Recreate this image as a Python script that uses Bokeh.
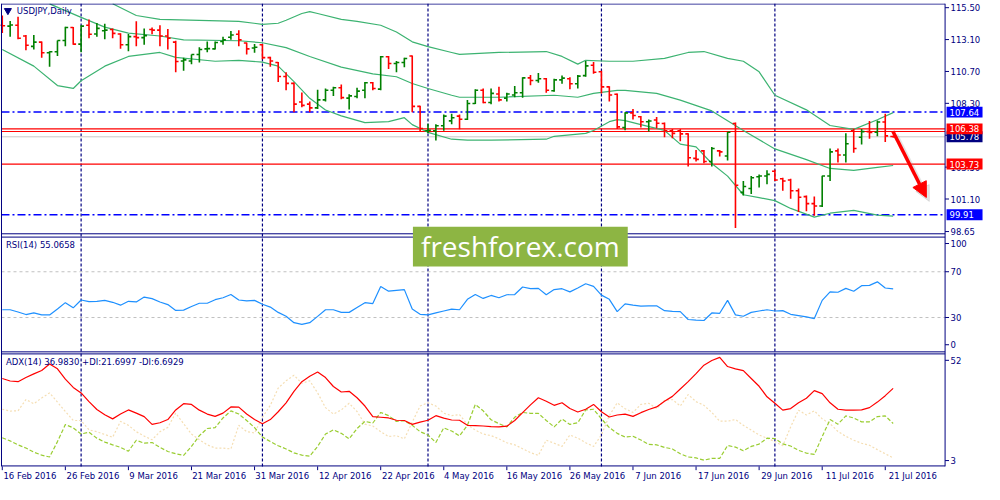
from bokeh.plotting import figure
from bokeh.models import (Range1d, FixedTicker, Label, ColumnDataSource, Arrow, NormalHead)
from bokeh.core.properties import value
from bokeh.embed import file_html
from bokeh.resources import INLINE

# ---- USDJPY daily bars, 16 Feb .. 22 Jul 2016 ----
opens = [114.18, 114.11, 114.18, 113.37, 112.59, 112.91, 112.11, 112.18, 113.03, 114.01,
         112.76, 114.18, 113.52, 113.76, 113.86, 113.52, 112.71, 113.32, 113.25, 113.86,
         113.81, 113.37, 112.91, 111.49, 111.49, 111.98, 112.40, 112.40, 112.96, 113.28,
         113.50, 112.84, 112.47, 112.71, 111.74, 111.37, 110.32, 109.80, 108.40, 108.24,
         107.96, 108.56, 109.29, 109.47, 108.69, 108.81, 109.29, 109.85, 109.37, 111.81,
         111.30, 111.37, 111.86, 108.07, 106.24, 106.24, 106.61, 106.98, 107.34, 107.10,
         108.29, 109.29, 108.36, 109.00, 108.69, 108.93, 109.10, 110.22, 110.02, 110.15,
         109.25, 110.07, 110.15, 109.78, 110.39, 111.17, 110.68, 109.54, 108.98, 106.48,
         107.58, 107.29, 106.92, 107.05, 106.78, 106.24, 106.24, 106.00, 104.16, 104.72,
         103.92, 104.72, 104.34, 106.78, 101.60, 101.89, 102.77, 102.83, 103.19, 102.62,
         102.53, 101.72, 101.28, 100.75, 100.57, 102.83, 104.72, 104.41, 106.24, 105.75,
         106.17, 106.12, 106.90, 105.80]
highs = [114.91, 114.50, 114.81, 113.44, 113.44, 112.96, 112.22, 113.03, 114.06, 114.05,
         114.18, 114.62, 114.35, 114.30, 113.94, 113.57, 113.52, 114.47, 113.94, 114.01,
         114.18, 113.89, 113.01, 111.74, 111.98, 112.52, 112.96, 112.96, 113.32, 113.74,
         113.81, 112.88, 112.76, 112.76, 111.81, 111.42, 110.64, 109.87, 109.12, 108.44,
         109.32, 109.42, 109.54, 109.71, 108.98, 109.47, 109.91, 109.91, 111.86, 111.86,
         111.49, 111.74, 111.91, 108.12, 106.77, 106.72, 107.46, 107.51, 107.46, 108.55,
         109.37, 109.42, 109.42, 109.54, 109.10, 109.61, 110.27, 110.44, 110.59, 110.20,
         110.15, 110.39, 110.27, 110.44, 111.49, 111.42, 110.76, 109.58, 109.05, 107.63,
         107.88, 107.34, 107.09, 107.27, 106.85, 106.36, 106.36, 106.04, 104.78, 104.78,
         105.02, 104.78, 106.15, 106.85, 102.46, 102.83, 102.95, 103.26, 103.31, 102.70,
         102.62, 101.89, 101.36, 101.28, 102.85, 104.90, 104.90, 106.04, 106.36, 106.36,
         106.97, 107.01, 107.51, 105.86]
lows = [113.59, 113.32, 113.13, 112.30, 112.35, 111.74, 111.05, 111.86, 112.59, 112.71,
        112.15, 113.20, 113.32, 113.13, 113.20, 112.40, 112.22, 112.59, 112.71, 113.50,
        112.59, 112.35, 110.64, 110.76, 111.25, 111.37, 112.15, 112.35, 112.71, 113.08,
        112.59, 111.98, 112.11, 111.62, 111.05, 109.91, 109.29, 107.63, 108.01, 107.63,
        107.88, 108.44, 108.85, 108.61, 107.83, 108.69, 108.69, 109.29, 109.29, 110.88,
        110.64, 111.01, 107.63, 106.17, 106.04, 105.51, 106.24, 106.72, 106.35, 107.05,
        108.25, 108.31, 108.24, 108.44, 108.44, 108.76, 108.73, 109.66, 109.85, 109.10,
        109.17, 109.78, 109.36, 109.42, 110.30, 110.52, 109.05, 108.44, 106.36, 106.28,
        107.09, 106.48, 106.19, 106.41, 105.75, 105.68, 105.44, 103.55, 103.92, 103.80,
        103.55, 104.29, 103.99, 98.91, 101.36, 101.48, 101.96, 102.21, 102.46, 101.72,
        101.11, 100.13, 100.18, 99.84, 100.49, 102.46, 103.85, 103.85, 104.58, 105.21,
        105.63, 105.82, 105.39, 105.72]
closes = [114.14, 114.20, 113.20, 112.67, 112.91, 112.11, 112.18, 113.03, 114.01, 112.76,
          114.11, 113.50, 113.94, 113.81, 113.57, 112.71, 113.32, 113.25, 113.40, 113.81,
          113.37, 113.20, 111.45, 111.57, 111.98, 112.35, 112.42, 112.88, 113.08, 113.44,
          113.08, 112.40, 112.52, 111.74, 111.49, 110.32, 109.80, 108.24, 108.15, 107.96,
          108.56, 109.29, 109.47, 108.73, 108.86, 109.22, 109.85, 109.42, 111.81, 111.30,
          111.37, 111.67, 108.07, 106.41, 106.28, 106.61, 107.34, 107.22, 107.10, 108.29,
          109.29, 108.36, 109.05, 108.56, 109.00, 109.10, 110.22, 110.02, 110.15, 109.29,
          110.07, 110.20, 109.78, 110.35, 111.12, 110.64, 109.54, 108.93, 106.53, 107.58,
          107.39, 106.92, 106.97, 106.80, 106.24, 106.04, 106.00, 104.21, 104.08, 103.92,
          104.90, 104.65, 106.12, 102.14, 102.04, 102.70, 102.83, 102.95, 102.53, 102.46,
          101.72, 101.23, 100.75, 100.57, 102.83, 104.65, 104.41, 105.26, 104.90, 106.17,
          106.10, 106.90, 105.85, 105.78]

# Bollinger bands at sample bars
upper_idx = [14, 17, 20, 25, 30, 33, 35, 36, 38, 39, 40, 43, 45, 48, 50, 52, 54, 57, 58,
             63, 69, 71, 73, 74, 77, 80, 84, 87, 89, 92, 94, 96, 98, 102, 105, 108, 111, 113]
upper_val = [115.79, 114.91, 114.62, 114.55, 114.47, 114.25, 114.33, 114.55, 115.06, 115.20,
             115.06, 114.62, 114.47, 114.18, 113.67, 112.93, 112.57, 112.13, 111.98, 112.13,
             112.20, 111.83, 111.25, 111.54, 111.47, 111.47, 111.69, 112.13, 112.20, 111.69,
             111.47, 110.67, 108.91, 107.81, 106.63, 106.34, 107.07, 107.60]
middle_idx = [6, 10, 13, 16, 20, 23, 30, 33, 36, 39, 43, 47, 50, 52, 54, 57, 58, 63, 70,
              73, 75, 78, 79, 83, 86, 90, 94, 98, 102, 105, 108, 111, 113]
middle_val = [115.79, 114.77, 114.04, 113.59, 113.37, 113.08, 113.01, 112.86, 112.49, 111.83,
              111.03, 110.52, 110.30, 109.79, 109.42, 108.91, 108.76, 108.76, 108.91, 108.76,
              109.05, 109.27, 109.27, 109.05, 108.54, 107.73, 106.26, 104.87, 104.06, 103.40,
              103.26, 103.48, 103.62]
lower_idx = [0, 4, 7, 9, 10, 13, 16, 20, 22, 27, 30, 33, 35, 37, 39, 41, 43, 46, 49, 51,
             52, 54, 57, 59, 62, 69, 70, 74, 75, 77, 78, 79, 81, 84, 86, 88, 90, 92, 94, 96,
             98, 100, 103, 105, 108, 111, 113]
lower_val = [112.35, 111.10, 109.64, 109.42, 110.00, 111.10, 111.83, 112.13, 111.76, 111.47,
             111.54, 111.40, 111.10, 109.93, 108.68, 107.80, 107.36, 106.85, 106.92, 107.22,
             106.70, 106.12, 105.60, 105.53, 105.53, 105.60, 105.82, 106.04, 106.26, 106.92,
             107.07, 107.00, 106.70, 106.26, 105.23, 105.02, 103.77, 102.82, 101.42, 101.20,
             100.98, 100.39, 99.74, 100.03, 100.25, 99.88, 99.81]

rsi = [36.8, 36.8, 34.8, 32.6, 34.0, 32.3, 32.3, 37.4, 43.0, 38.5,
       45.3, 43.9, 44.2, 45.0, 43.3, 40.8, 44.2, 43.6, 47.9, 46.5,
       43.6, 41.3, 36.2, 36.5, 39.6, 42.5, 42.5, 45.6, 47.3, 50.1,
       45.3, 44.5, 45.0, 41.6, 39.1, 34.5, 31.1, 25.5, 24.0, 25.5,
       31.0, 36.8, 36.8, 34.5, 34.5, 38.8, 43.0, 42.2, 57.2, 53.0,
       53.8, 54.4, 37.4, 32.8, 32.3, 34.0, 35.7, 37.4, 36.8, 45.9,
       50.1, 46.7, 49.3, 47.3, 49.9, 50.1, 56.7, 55.2, 55.5, 49.9,
       54.4, 55.2, 52.4, 55.8, 59.5, 57.2, 49.6, 45.9, 35.1, 41.9,
       40.8, 39.9, 40.2, 40.2, 36.0, 35.4, 35.1, 28.3, 27.7, 27.4,
       34.0, 33.7, 45.0, 32.3, 31.1, 34.5, 35.7, 36.8, 35.7, 36.0,
       32.8, 31.7, 30.6, 29.1, 45.0, 52.4, 52.1, 55.5, 53.0, 57.8,
       58.1, 61.2, 55.8, 55.07]

adx = [41.3, 40.2, 39.9, 41.7, 43.3, 44.8, 47.6, 45.5, 41.0, 37.4,
       35.0, 31.2, 27.8, 25.5, 23.7, 25.8, 27.6, 26.2, 24.7, 21.3,
       22.0, 23.4, 27.6, 30.3, 30.0, 27.5, 25.8, 24.8, 26.2, 28.9,
       28.8, 25.8, 23.4, 21.6, 23.4, 26.8, 30.7, 35.7, 39.9, 42.3,
       44.1, 41.7, 37.8, 35.4, 35.7, 32.9, 29.3, 24.7, 24.4, 24.1,
       23.1, 23.0, 21.3, 22.3, 23.1, 25.1, 24.0, 23.2, 23.1, 20.9,
       20.8, 20.6, 20.3, 20.2, 20.5, 23.0, 26.4, 29.8, 32.9, 31.4,
       29.6, 30.7, 28.2, 26.7, 27.9, 30.0, 26.8, 24.5, 25.4, 25.8,
       24.8, 26.4, 27.8, 28.9, 31.4, 33.5, 36.7, 39.9, 43.4, 47.1,
       49.1, 50.5, 46.5, 45.5, 44.7, 41.3, 37.9, 33.3, 30.5, 27.5,
       28.2, 30.7, 32.7, 36.0, 34.7, 30.7, 27.9, 27.5, 27.5, 27.6,
       28.6, 31.0, 33.8, 36.98]
plus_di = [15.5, 14.1, 12.4, 11.0, 9.2, 7.9, 7.1, 13.8, 21.2, 19.8,
           17.1, 17.9, 15.3, 13.6, 12.4, 11.3, 9.6, 14.4, 13.1, 13.4,
           11.3, 9.5, 8.5, 7.8, 11.7, 16.4, 19.5, 19.9, 24.1, 27.2,
           25.8, 23.0, 19.9, 15.8, 13.8, 12.0, 10.6, 8.9, 7.9, 7.5,
           11.7, 17.1, 18.9, 17.4, 15.0, 19.5, 22.6, 21.9, 26.5, 25.1,
           22.6, 22.9, 20.9, 18.1, 16.7, 13.4, 19.8, 18.4, 16.3, 20.9,
           30.0, 27.2, 23.3, 21.6, 20.2, 24.4, 26.5, 26.1, 26.1, 23.0,
           20.2, 23.6, 21.3, 22.0, 27.6, 27.9, 23.7, 19.9, 17.4, 15.8,
           16.1, 14.5, 12.6, 12.4, 11.3, 10.6, 8.5, 7.1, 6.7, 5.7,
           6.5, 6.5, 12.1, 11.4, 9.8, 11.7, 12.7, 15.3, 15.1, 12.8,
           11.9, 10.0, 8.8, 8.2, 16.0, 23.4, 21.4, 25.0, 24.1, 22.4,
           22.4, 24.7, 25.0, 21.70]
minus_di = [27.9, 27.1, 27.2, 32.1, 30.3, 32.8, 35.0, 31.0, 26.9, 23.0,
            23.0, 18.9, 18.1, 16.9, 15.7, 22.6, 20.9, 18.1, 16.2, 14.6,
            18.1, 20.0, 26.2, 21.6, 17.1, 14.6, 12.4, 11.0, 11.0, 10.6,
            20.9, 18.1, 17.6, 24.4, 29.6, 37.1, 40.3, 42.7, 39.2, 40.3,
            35.0, 28.6, 25.8, 27.6, 30.5, 26.9, 21.4, 20.6, 18.1, 16.0,
            16.4, 15.0, 22.3, 29.3, 30.7, 29.3, 26.2, 25.1, 25.6, 21.2,
            18.8, 17.1, 16.4, 15.0, 13.3, 12.4, 10.7, 9.0, 7.8, 14.4,
            13.1, 11.7, 16.7, 15.3, 13.3, 11.7, 16.7, 25.1, 30.7, 28.1,
            26.5, 30.0, 30.5, 28.2, 31.7, 32.1, 29.3, 34.3, 31.2, 29.6,
            26.5, 22.7, 22.7, 23.4, 20.9, 18.8, 16.7, 15.3, 13.8, 12.0,
            20.2, 27.5, 25.4, 27.2, 23.7, 21.6, 18.2, 16.1, 14.4, 13.1,
            12.2, 10.3, 8.5, 6.69]

date_bars = [0, 8, 16, 24, 32, 40, 48, 56, 64, 72, 80, 88, 96, 104, 112]
date_labels = ["16 Feb 2016", "26 Feb 2016", "9 Mar 2016", "21 Mar 2016", "31 Mar 2016",
               "12 Apr 2016", "22 Apr 2016", "4 May 2016", "16 May 2016", "26 May 2016",
               "7 Jun 2016", "17 Jun 2016", "29 Jun 2016", "11 Jul 2016", "21 Jul 2016"]
month_bars = [10, 33, 54, 76, 98]
price_ticks = [115.50, 113.10, 110.70, 108.30, 105.90, 103.50, 101.10, 98.65]
rsi_levels = [70, 30]
blue_levels = [107.64, 99.91]
red_levels = [106.38, 106.18, 103.73]
bid = 105.78
tags = [(107.64, "#0000ff"), (105.78, "#000080"), (106.38, "#ff0000"),
        (103.73, "#ff0000"), (99.91, "#0000ff")]

NAVY = "#000080"
FONT = "DejaVu Sans"
FS = "8.5px"


# calibration of the reference: pixel row / column -> value in each window
def price_at(row):
    return 115.50 - (row - 7.0) / 13.65


def rsi_at(row):
    return 100.0 - (row - 243.05) / 1.1755


def adx_at(row):
    return 52.0 - (row - 362.7) / 2.359


def bar_at(col):
    return (col - 3.3) / 8.0


TOP, BOT = 2.7, 482.5          # frame rows; the last window ends at row 478
X0, X1 = bar_at(2.5), bar_at(960)
YB, YT = price_at(478.3), price_at(TOP)

p = figure(width=984, height=484, x_range=Range1d(bar_at(1.5), bar_at(1000)),
           y_range=Range1d(price_at(BOT), price_at(TOP)), y_axis_location=None,
           toolbar_location=None, output_backend="svg",
           min_border_left=0, min_border_right=0, min_border_top=3, min_border_bottom=14)
p.extra_y_ranges = {"rsi": Range1d(rsi_at(BOT), rsi_at(TOP)),
                    "adx": Range1d(adx_at(BOT), adx_at(TOP))}
p.grid.visible = False
p.outline_line_color = None
p.background_fill_color = "white"
p.border_fill_color = "white"

# time axis: labels start at their tick, so the label ticks sit half a label to the right
shift = [round(b + (len(t) * 4.85 / 2 + 1) / 7.9, 3) for b, t in zip(date_bars, date_labels)]
dover = {}
for s, t in zip(shift, date_labels):
    dover[s] = t
    dover[str(s)] = t
xa = p.xaxis[0]
xa.ticker = FixedTicker(ticks=shift)
xa.major_label_overrides = dover
xa.axis_line_color = None
xa.major_tick_line_color = None
xa.minor_tick_line_color = None
xa.major_tick_out = 0
xa.major_tick_in = 0
xa.major_label_standoff = 0
xa.major_label_text_color = NAVY
xa.major_label_text_font = FONT
xa.major_label_text_font_size = FS

# date tick marks under the last window
n = len(date_bars)
p.segment(x0=date_bars, x1=date_bars, y0=[YB] * n, y1=[price_at(482.3)] * n,
          line_color=NAVY, line_width=1)

# month separators
p.segment(x0=month_bars, x1=month_bars, y0=[YB] * 5, y1=[YT] * 5,
          line_color=NAVY, line_dash="3 2", line_width=1.2)


def hlines(levels, **kw):
    k = len(levels)
    p.segment(x0=[X0] * k, x1=[X1] * k, y0=levels, y1=levels, **kw)


# horizontal levels of the price window
hlines(blue_levels, line_color="#0000ff", line_dash="8 3 2 3", line_width=1.5)
hlines([bid], line_color="#c8c8c8", line_width=1)
hlines(red_levels, line_color="#ff0000", line_width=1.2)

# Bollinger bands
band = "#3cb371"
p.line(upper_idx, upper_val, line_color=band, line_width=1.2)
p.line(middle_idx, middle_val, line_color=band, line_width=1.2)
p.line(lower_idx, lower_val, line_color=band, line_width=1.2)

# OHLC bars
idx = list(range(len(closes)))
cols = ["#008000" if c >= o else "#ff0000" for o, c in zip(opens, closes)]
src = ColumnDataSource(dict(x=idx, o=opens, h=highs, l=lows, c=closes, col=cols,
                            xl=[i - 0.36 for i in idx], xr=[i + 0.36 for i in idx]))
p.segment(x0="x", y0="l", x1="x", y1="h", color="col", line_width=1.6, source=src)
p.segment(x0="xl", y0="o", x1="x", y1="o", color="col", line_width=1.6, source=src)
p.segment(x0="x", y0="c", x1="xr", y1="c", color="col", line_width=1.6, source=src)

# RSI window
p.segment(x0=[X0] * 2, x1=[X1] * 2, y0=rsi_levels, y1=rsi_levels, y_range_name="rsi",
          line_color="#c0c0c0", line_dash="3 3", line_width=1)
p.line(idx, rsi, y_range_name="rsi", line_color="#1e90ff", line_width=1.2)

# ADX window
p.line(idx, minus_di, y_range_name="adx", line_color="#f5deb3", line_dash="2 2", line_width=1.2)
p.line(idx, plus_di, y_range_name="adx", line_color="#9acd32", line_dash="4 2", line_width=1.2)
p.line(idx, adx, y_range_name="adx", line_color="#ff0000", line_width=1.2)

# window frames
rows = [3.2, 239.3, 242.7, 360.6, 362.7, 477.8]
hlines([price_at(r) for r in rows], line_color=NAVY, line_width=1)
p.segment(x0=[X0, X1], x1=[X0, X1], y0=[YB] * 2, y1=[YT] * 2, line_color=NAVY, line_width=1)

# right scale: price ticks and the labels of the indicator windows
scale_txt = ["%.2f" % v for v in price_ticks] + ["100", "70", "30", "0", "52", "3"]
scale_y = price_ticks + [price_at(r) for r in (249.3, 278.3, 325.3, 353.3, 369.3, 472.3)]
k = len(scale_y)
p.segment(x0=[X1] * k, x1=[bar_at(964)] * k, y0=scale_y, y1=scale_y, line_color=NAVY,
          line_width=1)
p.text(x=[bar_at(965.5)] * k, y=scale_y, text=scale_txt, text_align="left",
       text_baseline="middle", text_color=NAVY, text_font=value(FONT), text_font_size=FS)

# price tags on the scale
half = 5.6 / 13.65
for v, bg in tags:
    p.quad(left=[bar_at(961.5)], right=[bar_at(998)], top=[v + half], bottom=[v - half],
           fill_color=bg, line_color=None)
    p.text(x=[bar_at(964.5)], y=[v], text=["%.2f" % v], text_align="left",
           text_baseline="middle", text_color="white", text_font=value(FONT),
           text_font_size=FS)

# watermark
p.quad(left=[bar_at(420)], right=[bar_at(638)], top=[price_at(232)], bottom=[price_at(273)],
       fill_color="#8db543", line_color=None)
p.text(x=[bar_at(529)], y=[price_at(252)], text=["freshforex.com"], text_align="center",
       text_baseline="middle", text_color="white", text_font=value("Open Sans"),
       text_font_size="28px")

# window captions
p.scatter([bar_at(9)], [price_at(10)], marker="inverted_triangle", size=7,
          fill_color=NAVY, line_color=NAVY)
cap = dict(text_color=NAVY, text_font=FONT, text_font_size=FS, text_baseline="middle")
p.add_layout(Label(x=bar_at(18), y=price_at(10), text="USDJPY,Daily", **cap))
p.add_layout(Label(x=bar_at(7), y=rsi_at(251), y_range_name="rsi",
                   text="RSI(14) 55.0658", **cap))
p.add_layout(Label(x=bar_at(7), y=adx_at(371), y_range_name="adx",
                   text="ADX(14) 36.9830 +DI:21.6997 -DI:6.6929", **cap))

# arrow with soft shadow
p.add_layout(Arrow(end=NormalHead(size=15, fill_color="#999999", line_color="#999999",
                                  fill_alpha=0.25, line_alpha=0.25),
                   x_start=bar_at(910), y_start=price_at(138), x_end=bar_at(944),
                   y_end=price_at(206), line_color="#999999", line_alpha=0.25, line_width=5))
p.add_layout(Arrow(end=NormalHead(size=15, fill_color="#ff0000", line_color="#ff0000"),
                   x_start=bar_at(907), y_start=price_at(134), x_end=bar_at(941),
                   y_end=price_at(202), line_color="#ff0000", line_width=3.5))

open("out.html", "w").write(file_html(p, INLINE))
